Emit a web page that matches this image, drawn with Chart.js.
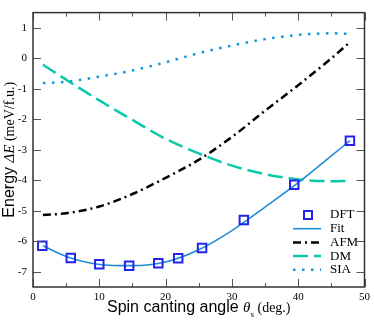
<!DOCTYPE html>
<html>
<head>
<meta charset="utf-8">
<script src="https://cdn.jsdelivr.net/npm/chart.js@4.4.1/dist/chart.umd.min.js"></script>
<style>
  html, body { margin: 0; padding: 0; background: #fff; }
</style>
</head>
<body>
<canvas id="myChart" width="374" height="322"></canvas>
<script>
// DFT points (squares)
const dftAngle = [1.4, 5.7, 10, 14.5, 18.9, 21.9, 25.5, 31.8, 39.4, 47.8];
const dftEnergy = [-6.15, -6.55, -6.75, -6.8, -6.72, -6.56, -6.22, -5.3, -4.15, -2.7];

// model curves, sampled on one angle grid
const curveAngle = [1.5, 5, 10, 15, 20, 25, 30, 35, 40, 45, 47.8];
const fitEnergy = [-6.15, -6.5, -6.76, -6.8, -6.68, -6.28, -5.65, -4.88, -4.08, -3.2, -2.7];
const afmEnergy = [-5.14, -5.08, -4.86, -4.45, -3.92, -3.33, -2.58, -1.72, -0.88, 0.0, 0.53];
const dmEnergy = [-0.21, -0.7, -1.38, -2.02, -2.64, -3.12, -3.52, -3.8, -3.97, -4.03, -4.02];
const siaEnergy = [-0.81, -0.77, -0.6, -0.4, -0.13, 0.17, 0.42, 0.63, 0.77, 0.82, 0.8];

const xTicks = [0, 10, 20, 30, 40, 50];
const yTicks = [-7, -6, -5, -4, -3, -2, -1, 0, 1];
const legendLabels = ['DFT', 'Fit', 'AFM', 'DM', 'SIA'];

const SERIF = '"Liberation Serif", "DejaVu Serif", serif';
const SANS = '"Liberation Sans", Arial, sans-serif';

function pts(xs, ys) {
    return xs.map((x, i) => ({ x: x, y: ys[i] }));
}

// draws a row of text pieces with different fonts
function drawRuns(ctx, runs, cx, cy) {
    let total = 0;
    runs.forEach(r => {
        ctx.font = r.font;
        r.w = ctx.measureText(r.text).width;
        total += r.w;
    });
    let x = cx - total / 2;
    runs.forEach(r => {
        ctx.font = r.font;
        ctx.fillText(r.text, x, cy + (r.dy || 0));
        x += r.w;
    });
}

const decorPlugin = {
    id: 'decor',
    afterDraw(chart) {
        const ctx = chart.ctx;
        const a = chart.chartArea;
        const xs = chart.scales.x;
        const ys = chart.scales.y;
        ctx.save();

        // inward ticks on all four sides
        ctx.strokeStyle = '#555';
        ctx.lineWidth = 1;
        ctx.beginPath();
        xTicks.forEach((v, i) => {
            const px = Math.round(xs.getPixelForValue(v)) + 0.5;
            ctx.moveTo(px, a.bottom); ctx.lineTo(px, a.bottom - 8);
            ctx.moveTo(px, a.top); ctx.lineTo(px, a.top + 8);
            if (i < xTicks.length - 1) {
                const mx = Math.round(xs.getPixelForValue((v + xTicks[i + 1]) / 2)) + 0.5;
                ctx.moveTo(mx, a.bottom); ctx.lineTo(mx, a.bottom - 4);
                ctx.moveTo(mx, a.top); ctx.lineTo(mx, a.top + 4);
            }
        });
        const yAll = [];
        yTicks.forEach(v => { yAll.push([v, 8]); });
        for (let v = ys.min + 0.5; v < ys.max; v += 1) yAll.push([v, 4]);
        yAll.forEach(([v, len]) => {
            const py = Math.round(ys.getPixelForValue(v)) + 0.5;
            ctx.moveTo(a.left, py); ctx.lineTo(a.left + len, py);
            ctx.moveTo(a.right, py); ctx.lineTo(a.right - len, py);
        });
        ctx.stroke();

        // frame
        ctx.strokeStyle = '#333';
        ctx.lineWidth = 1.5;
        ctx.strokeRect(a.left, a.top, a.right - a.left, a.bottom - a.top);

        // legend
        ctx.fillStyle = '#000';
        ctx.textBaseline = 'middle';
        ctx.textAlign = 'left';
        legendLabels.forEach((label, i) => {
            const ds = chart.data.datasets[i];
            const ly = 215 + i * 13.7;
            if (i === 0) {
                ctx.strokeStyle = ds.pointBorderColor;
                ctx.lineWidth = 2;
                ctx.setLineDash([]);
                ctx.strokeRect(304, ly - 4, 8, 8);
            } else {
                ctx.strokeStyle = ds.borderColor;
                ctx.lineWidth = ds.borderWidth;
                ctx.setLineDash(ds.borderDash || []);
                ctx.beginPath();
                ctx.moveTo(293, ly);
                ctx.lineTo(321, ly);
                ctx.stroke();
            }
            ctx.setLineDash([]);
            ctx.font = '13px ' + SERIF;
            ctx.fillText(label, 330, ly);
        });

        // x axis title
        ctx.textBaseline = 'alphabetic';
        ctx.textAlign = 'left';
        drawRuns(ctx, [
            { text: 'Spin canting angle ', font: '16px ' + SANS },
            { text: 'θ', font: 'italic 15px ' + SERIF },
            { text: 's', font: '9px ' + SERIF, dy: 5 },
            { text: ' (deg.)', font: '14px ' + SERIF }
        ], (a.left + a.right) / 2, 312);

        // y axis title
        ctx.translate(14, (a.top + a.bottom) / 2);
        ctx.rotate(-Math.PI / 2);
        drawRuns(ctx, [
            { text: 'Energy ', font: '16px ' + SANS },
            { text: 'ΔE', font: 'italic 15px ' + SERIF },
            { text: ' (meV/f.u.)', font: '14px ' + SERIF }
        ], 0, 0);
        ctx.restore();
    }
};

const data = {
    datasets: [{
        label: 'DFT',
        data: pts(dftAngle, dftEnergy),
        showLine: false,
        pointStyle: 'rect',
        pointRadius: 6,
        pointBorderWidth: 2,
        pointBorderColor: 'rgb(35,35,235)',
        pointBackgroundColor: 'rgba(0,0,0,0)',
        order: 0
    }, {
        label: 'Fit',
        data: pts(curveAngle, fitEnergy),
        borderColor: 'rgb(30,140,215)',
        borderWidth: 1.6,
        pointRadius: 0,
        cubicInterpolationMode: 'monotone',
        order: 1
    }, {
        label: 'AFM',
        data: pts(curveAngle, afmEnergy),
        borderColor: '#000',
        borderWidth: 2.5,
        borderDash: [8, 4, 2, 4],
        pointRadius: 0,
        cubicInterpolationMode: 'monotone',
        order: 2
    }, {
        label: 'DM',
        data: pts(curveAngle, dmEnergy),
        borderColor: 'rgb(10,200,170)',
        borderWidth: 2.5,
        borderDash: [15, 6],
        pointRadius: 0,
        cubicInterpolationMode: 'monotone',
        order: 3
    }, {
        label: 'SIA',
        data: pts(curveAngle, siaEnergy),
        borderColor: 'rgb(20,150,220)',
        borderWidth: 2.5,
        borderDash: [2.5, 6.5],
        pointRadius: 0,
        cubicInterpolationMode: 'monotone',
        order: 4
    }]
};

const config = {
    type: 'line',
    data: data,
    options: {
        responsive: false,
        animation: false,
        devicePixelRatio: 1,
        layout: { padding: { top: 2, right: 7, left: 0, bottom: 0 } },
        plugins: {
            legend: { display: false },
            tooltip: { enabled: false }
        },
        scales: {
            x: {
                type: 'linear',
                min: 0,
                max: 50,
                afterBuildTicks: s => { s.ticks = xTicks.map(v => ({ value: v })); },
                afterFit: s => { s.height = 35; },
                grid: { display: false, drawTicks: false },
                border: { display: false },
                ticks: {
                    padding: 4,
                    color: '#000',
                    maxRotation: 0,
                    font: { family: SERIF, size: 11 }
                }
            },
            y: {
                min: -7.5,
                max: 1.5,
                afterBuildTicks: s => { s.ticks = yTicks.map(v => ({ value: v })); },
                afterFit: s => { s.width = 33; },
                grid: { display: false, drawTicks: false },
                border: { display: false },
                ticks: {
                    padding: 6,
                    color: '#000',
                    font: { family: SERIF, size: 11 }
                }
            }
        }
    },
    plugins: [decorPlugin]
};

const myChart = new Chart(document.getElementById('myChart'), config);
</script>
</body>
</html>
